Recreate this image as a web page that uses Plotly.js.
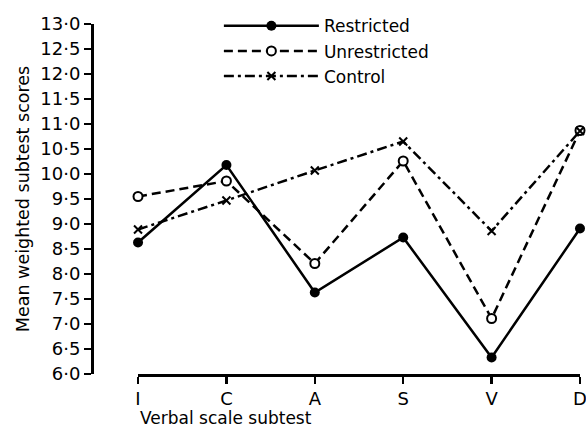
<!DOCTYPE html>
<html>
<head>
<meta charset="utf-8">
<script src="https://cdn.plot.ly/plotly-3.0.1.min.js"></script>
<style>html,body{margin:0;padding:0;background:#fff;}#chart{width:586px;height:429px;}</style>
</head>
<body>
<div id="chart"></div>
<script>
const subtests = ["I", "C", "A", "S", "V", "D"];
const restricted = [8.63, 10.18, 7.63, 8.73, 6.33, 8.91];
const unrestricted = [9.55, 9.86, 8.21, 10.26, 7.11, 10.87];
const control = [8.89, 9.47, 10.07, 10.65, 8.86, 10.86];
const yTickVals = [6, 6.5, 7, 7.5, 8, 8.5, 9, 9.5, 10, 10.5, 11, 11.5, 12, 12.5, 13];
const yTickText = ["6·0", "6·5", "7·0", "7·5", "8·0", "8·5", "9·0", "9·5", "10·0", "10·5", "11·0", "11·5", "12·0", "12·5", "13·0"];

const FONT = "'DejaVu Sans', sans-serif";
const traces = [
  {x: subtests, y: restricted, name: "Restricted", type: "scatter", mode: "lines+markers",
   line: {color: "#000", width: 2.5},
   marker: {symbol: "circle", size: 10, color: "#000"}, cliponaxis: false},
  {x: subtests, y: unrestricted, name: "Unrestricted", type: "scatter", mode: "lines+markers",
   line: {color: "#000", width: 2.5, dash: "9px,5px"},
   marker: {symbol: "circle", size: 9, color: "#fff", line: {color: "#000", width: 2}}, cliponaxis: false},
  {x: subtests, y: control, name: "Control", type: "scatter", mode: "lines+markers",
   line: {color: "#000", width: 2.5, dash: "10px,4px,3px,4px"},
   marker: {symbol: "x-thin", size: 8, color: "#000", line: {color: "#000", width: 2}}, cliponaxis: false}
];

const layout = {
  width: 586, height: 429,
  margin: {l: 92, r: 6, t: 24, b: 55},
  paper_bgcolor: "#fff", plot_bgcolor: "#fff",
  font: {family: FONT, color: "#000", size: 16},
  showlegend: true,
  legend: {x: 0.26, y: 1.045, xanchor: "left", yanchor: "top", bgcolor: "rgba(0,0,0,0)",
           font: {size: 17, family: FONT}, itemwidth: 95, tracegroupgap: 0},
  xaxis: {
    domain: [0.0943, 1], range: [0, 5], type: "category",
    showgrid: false, zeroline: false, showline: true, linecolor: "#000", linewidth: 2.5,
    ticks: "outside", ticklen: 7, tickwidth: 2.5, tickcolor: "#000",
    tickfont: {size: 18, family: FONT}, anchor: "y"
  },
  yaxis: {
    range: [6, 13], anchor: "free", position: 0,
    showgrid: false, zeroline: false, showline: true, linecolor: "#000", linewidth: 2.5,
    ticks: "outside", ticklen: 7, tickwidth: 2.5, tickcolor: "#000",
    tickvals: yTickVals, ticktext: yTickText,
    tickfont: {size: 18, family: FONT},
    title: {text: "Mean weighted subtest scores", font: {size: 17.5, family: FONT}, standoff: 5}
  },
  annotations: [
    {text: "Verbal scale subtest", xref: "paper", yref: "paper", x: 0.0943, y: -0.092,
     xanchor: "left", yanchor: "top", showarrow: false, font: {size: 17, family: FONT}}
  ]
};

Plotly.newPlot("chart", traces, layout, {displayModeBar: false, staticPlot: true});
</script>
</body>
</html>
